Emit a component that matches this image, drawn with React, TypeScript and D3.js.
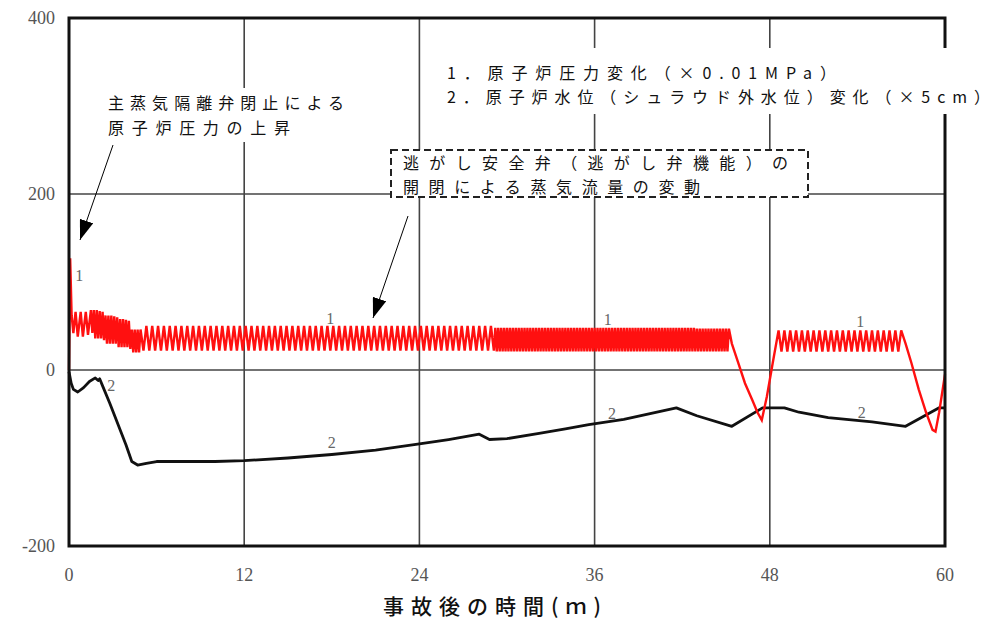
import React from 'react';
import * as d3 from 'd3';

// time after the accident (minutes)
const xTicks = [0, 12, 24, 36, 48, 60];
const yTicks = [-200, 0, 200, 400];

// 1. reactor pressure change (x0.01MPa) : [minute, value]
const pressureStart = [
  [0, 0], [0.08, 127], [0.18, 62], [0.3, 42], [0.45, 66], [0.6, 38], [0.8, 66], [0.95, 38], [1.15, 66], [1.3, 40],
  [1.5, 68], [1.6, 42], [1.7, 68], [1.8, 36], [1.9, 68], [2.0, 36], [2.1, 67], [2.2, 36], [2.3, 66], [2.4, 34],
  [2.5, 62], [2.6, 30], [2.7, 62], [2.8, 30], [2.9, 62], [3.0, 30], [3.1, 61], [3.2, 30], [3.3, 60], [3.4, 26],
  [3.5, 58], [3.6, 26], [3.7, 58], [3.8, 26], [3.9, 57], [4.0, 26], [4.1, 56], [4.2, 24], [4.3, 46], [4.4, 20],
  [4.5, 46], [4.6, 20], [4.7, 46], [4.8, 20], [4.9, 46],
];

// relief valve cycling
const pressureCycling = [
  [5.1, 22], [5.3, 50], [5.5, 22], [5.7, 50], [5.9, 22],
  [6.1, 50], [6.3, 22], [6.5, 50], [6.7, 22], [6.9, 50],
  [7.1, 22], [7.3, 50], [7.5, 22], [7.7, 50], [7.9, 22],
  [8.1, 50], [8.3, 22], [8.5, 50], [8.7, 22], [8.9, 50],
  [9.1, 22], [9.3, 50], [9.5, 22], [9.7, 50], [9.9, 22],
  [10.1, 50], [10.3, 22], [10.5, 50], [10.7, 22], [10.9, 50],
  [11.1, 22], [11.3, 50], [11.5, 22], [11.7, 50], [11.9, 22],
  [12.1, 50], [12.3, 22], [12.5, 50], [12.7, 22], [12.9, 50],
  [13.1, 22], [13.3, 50], [13.5, 22], [13.7, 50], [13.9, 22],
  [14.1, 50], [14.3, 22], [14.5, 50], [14.7, 22], [14.9, 50],
  [15.1, 22], [15.3, 50], [15.5, 22], [15.7, 50], [15.9, 22],
  [16.1, 50], [16.3, 22], [16.5, 50], [16.7, 22], [16.9, 50],
  [17.1, 22], [17.3, 50], [17.5, 22], [17.7, 50], [17.9, 22],
  [18.1, 50], [18.3, 22], [18.5, 50], [18.7, 22], [18.9, 50],
  [19.1, 22], [19.3, 50], [19.5, 22], [19.7, 50], [19.9, 22],
  [20.1, 50], [20.3, 22], [20.5, 50], [20.7, 22], [20.9, 50],
  [21.1, 22], [21.3, 50], [21.5, 22], [21.7, 50], [21.9, 22],
  [22.1, 50], [22.3, 22], [22.5, 50], [22.7, 22], [22.9, 50],
  [23.1, 22], [23.3, 50], [23.5, 22], [23.7, 50], [23.9, 22],
  [24.1, 50], [24.3, 22], [24.5, 50], [24.7, 22], [24.9, 50],
  [25.1, 22], [25.3, 50], [25.5, 22], [25.7, 50], [25.9, 22],
  [26.1, 50], [26.3, 22], [26.5, 50], [26.7, 22], [26.9, 50],
  [27.1, 22], [27.3, 50], [27.5, 22], [27.7, 50], [27.9, 22],
  [28.1, 50], [28.3, 22], [28.5, 50], [28.7, 22], [28.9, 50],
  [29.1, 22],
];

// faster cycling
const pressureFast = [
  [29.2, 48], [29.3, 21], [29.4, 48], [29.5, 21], [29.6, 48], [29.7, 21], [29.8, 48], [29.9, 21],
  [30, 48], [30.1, 21], [30.2, 48], [30.3, 21], [30.4, 48], [30.5, 21], [30.6, 48], [30.7, 21], [30.8, 48], [30.9, 21],
  [31, 48], [31.1, 21], [31.2, 48], [31.3, 21], [31.4, 48], [31.5, 21], [31.6, 48], [31.7, 21], [31.8, 48], [31.9, 21],
  [32, 48], [32.1, 21], [32.2, 48], [32.3, 21], [32.4, 48], [32.5, 21], [32.6, 48], [32.7, 21], [32.8, 48], [32.9, 21],
  [33, 48], [33.1, 21], [33.2, 48], [33.3, 21], [33.4, 48], [33.5, 21], [33.6, 48], [33.7, 21], [33.8, 48], [33.9, 21],
  [34, 48], [34.1, 21], [34.2, 48], [34.3, 21], [34.4, 48], [34.5, 21], [34.6, 48], [34.7, 21], [34.8, 48], [34.9, 21],
  [35, 48], [35.1, 21], [35.2, 48], [35.3, 21], [35.4, 48], [35.5, 21], [35.6, 48], [35.7, 21], [35.8, 48], [35.9, 21],
  [36, 48], [36.1, 21], [36.2, 48], [36.3, 21], [36.4, 48], [36.5, 21], [36.6, 48], [36.7, 21], [36.8, 48], [36.9, 21],
  [37, 48], [37.1, 21], [37.2, 48], [37.3, 21], [37.4, 48], [37.5, 21], [37.6, 48], [37.7, 21], [37.8, 48], [37.9, 21],
  [38, 48], [38.1, 21], [38.2, 48], [38.3, 21], [38.4, 48], [38.5, 21], [38.6, 48], [38.7, 21], [38.8, 48], [38.9, 21],
  [39, 48], [39.1, 21], [39.2, 48], [39.3, 21], [39.4, 48], [39.5, 21], [39.6, 48], [39.7, 21], [39.8, 48], [39.9, 21],
  [40, 48], [40.1, 21], [40.2, 48], [40.3, 21], [40.4, 48], [40.5, 21], [40.6, 48], [40.7, 21], [40.8, 48], [40.9, 21],
  [41, 48], [41.1, 21], [41.2, 48], [41.3, 21], [41.4, 48], [41.5, 21], [41.6, 48], [41.7, 21], [41.8, 48], [41.9, 21],
  [42, 48], [42.1, 21], [42.2, 48], [42.3, 21], [42.4, 48], [42.5, 21], [42.6, 48], [42.7, 21], [42.8, 48], [42.9, 21],
  [43, 47], [43.1, 21], [43.2, 47], [43.3, 21], [43.4, 47], [43.5, 21], [43.6, 47], [43.7, 21], [43.8, 47], [43.9, 21],
  [44, 47], [44.1, 21], [44.2, 47], [44.3, 21], [44.4, 47], [44.5, 21], [44.6, 47], [44.7, 21], [44.8, 47], [44.9, 21],
  [45, 47], [45.1, 21], [45.2, 47],
];

// drop, recovery, cycling, second drop
const pressureLate = [
  [45.4, 30], [45.8, 10], [46.3, -15], [46.8, -34], [47.15, -48], [47.45, -57], [47.8, -30], [48.2, 8],
  [48.6, 45], [48.8, 21],
  [49, 45], [49.2, 21], [49.4, 45], [49.6, 21], [49.8, 45],
  [50, 21], [50.2, 45], [50.4, 21], [50.6, 45], [50.8, 21],
  [51, 45], [51.2, 21], [51.4, 45], [51.6, 21], [51.8, 45],
  [52, 21], [52.2, 45], [52.4, 21], [52.6, 45], [52.8, 21],
  [53, 45], [53.2, 21], [53.4, 45], [53.6, 21], [53.8, 45],
  [54, 21], [54.2, 45], [54.4, 21], [54.6, 45], [54.8, 21],
  [55, 45], [55.2, 21], [55.4, 45], [55.6, 21], [55.8, 45],
  [56, 21], [56.2, 45], [56.4, 21], [56.6, 45], [56.8, 21],
  [57, 45],
  [57.3, 30], [57.7, 8], [58.2, -22], [58.7, -48], [59.15, -68], [59.35, -70], [59.6, -48], [60, -5],
];

// 2. reactor water level (outside shroud) change (x5cm)
const waterLevel = [
  [0, -2], [0.15, -15], [0.3, -22], [0.6, -25], [1.0, -20], [1.4, -13], [1.8, -9], [2.0, -12], [2.1, -10],
  [2.3, -18], [2.8, -38], [3.5, -68], [3.9, -85], [4.3, -104], [4.7, -108], [5.3, -106], [6, -104],
  [8, -104], [10, -104], [12, -103], [15, -100], [18, -96], [21, -91], [24, -84], [26, -79], [28.1, -73],
  [28.8, -79], [30, -78], [32.2, -72], [34, -67], [35.6, -62], [38, -56], [41.6, -43], [43, -52],
  [45.4, -64], [47.5, -43], [49, -43], [50, -48], [52, -54], [55, -59], [57.3, -64], [59.6, -43], [60, -43],
];

const curveLabels = [
  { text: '1', t: 0.7, v: 108 },
  { text: '1', t: 17.9, v: 59 },
  { text: '1', t: 36.9, v: 57 },
  { text: '1', t: 54.2, v: 55 },
  { text: '2', t: 2.9, v: -17 },
  { text: '2', t: 18, v: -82 },
  { text: '2', t: 37.2, v: -49 },
  { text: '2', t: 54.3, v: -48 },
];

const legendLines = ['1．原子炉圧力変化（×0.01MPa）', '2．原子炉水位（シュラウド外水位）変化（×5cm）'];
const noteMsiv = ['主蒸気隔離弁閉止による', '原子炉圧力の上昇'];
const noteSrv = ['逃がし安全弁（逃がし弁機能）の', '開閉による蒸気流量の変動'];

const cjk = '"Noto Sans CJK JP", "Noto Sans", sans-serif';
const serif = '"Liberation Serif", "Times New Roman", "DejaVu Serif", serif';

export default function App() {
  const x = d3.scaleLinear().domain([0, 60]).range([69, 945]);
  const y = d3.scaleLinear().domain([-200, 400]).range([546, 18]);
  const line = d3
    .line<number[]>()
    .x((d) => x(d[0]))
    .y((d) => y(d[1]));

  const pressure = [...pressureStart, ...pressureCycling, ...pressureFast, ...pressureLate];

  return (
    <svg width={999} height={631} style={{ position: 'absolute', left: 0, top: 0, background: '#fff' }}>
      <defs>
        <marker id="head" viewBox="0 0 20 14" refX="20" refY="7" markerWidth="20" markerHeight="14"
          markerUnits="userSpaceOnUse" orient="auto">
          <path d="M0,0 L20,7 L0,14 Z" fill="#000" />
        </marker>
      </defs>

      {/* grid */}
      {xTicks.map((t) => (
        <line key={'gx' + t} x1={x(t)} x2={x(t)} y1={y(400)} y2={y(-200)} stroke="#444" strokeWidth={1.6} />
      ))}
      {yTicks.map((v) => (
        <line key={'gy' + v} x1={x(0)} x2={x(60)} y1={y(v)} y2={y(v)} stroke="#444" strokeWidth={1.6} />
      ))}

      {/* curves */}
      <path d={line(waterLevel) || ''} fill="none" stroke="#111" strokeWidth={2.8} strokeLinejoin="round" />
      <path d={line(pressure) || ''} fill="none" stroke="#ff1010" strokeWidth={2.4} strokeLinejoin="miter" />

      {/* frame */}
      <rect x={x(0)} y={y(400)} width={x(60) - x(0)} height={y(-200) - y(400)} fill="none" stroke="#111" strokeWidth={3} />

      {/* tick labels */}
      {yTicks.map((v) => (
        <text key={'ly' + v} x={55} y={y(v)} dy="0.35em" textAnchor="end" fontFamily={serif} fontSize={18} fill="#555">
          {v}
        </text>
      ))}
      {xTicks.map((t) => (
        <text key={'lx' + t} x={x(t)} y={575} dy="0.35em" textAnchor="middle" fontFamily={serif} fontSize={18} fill="#555">
          {t}
        </text>
      ))}

      {/* curve number labels */}
      {curveLabels.map((l, i) => (
        <text key={'cl' + i} x={x(l.t)} y={y(l.v)} dy="0.35em" textAnchor="middle" fontFamily={serif} fontSize={16} fill="#666">
          {l.text}
        </text>
      ))}

      {/* legend */}
      <rect x={440} y={48} width={555} height={66} fill="#fff" />
      {legendLines.map((s, i) => (
        <text key={'lg' + i} x={447} y={73 + i * 24} dy="0.35em" fontFamily={cjk} fontSize={16}
          textLength={i === 0 ? 389 : 543} lengthAdjust="spacing" fill="#111">
          {s}
        </text>
      ))}

      {/* note: MSIV closure */}
      <rect x={92} y={88} width={262} height={54} fill="#fff" />
      {noteMsiv.map((s, i) => (
        <text key={'nm' + i} x={108} y={103 + i * 25} dy="0.35em" fontFamily={cjk} fontSize={16}
          textLength={i === 0 ? 236 : 182} lengthAdjust="spacing" fill="#111">
          {s}
        </text>
      ))}
      <line x1={113} y1={145} x2={80} y2={240} stroke="#000" strokeWidth={1} markerEnd="url(#head)" />

      {/* note: relief valve */}
      <rect x={391} y={150} width={417} height={47} fill="#fff" stroke="#222" strokeWidth={2} strokeDasharray="7 4" />
      {noteSrv.map((s, i) => (
        <text key={'ns' + i} x={403} y={163 + i * 24} dy="0.35em" fontFamily={cjk} fontSize={16}
          textLength={i === 0 ? 385 : 297} lengthAdjust="spacing" fill="#111">
          {s}
        </text>
      ))}
      <line x1={408} y1={216} x2={373} y2={318} stroke="#000" strokeWidth={1} markerEnd="url(#head)" />

      {/* x axis title */}
      <text x={383} y={607} dy="0.35em" fontFamily={cjk} fontSize={21} fontWeight={500}
        textLength={218} lengthAdjust="spacing" fill="#111">
        事故後の時間(ｍ)
      </text>
    </svg>
  );
}
